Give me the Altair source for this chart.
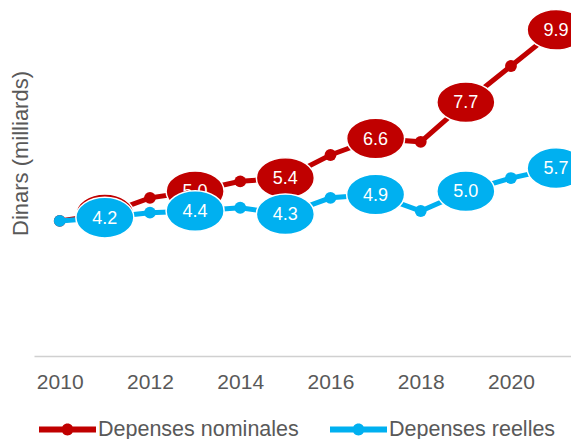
import altair as alt
import pandas as pd

years = list(range(2010, 2022))
nominal = [4.1, 4.3, 4.8, 5.0, 5.3, 5.4, 6.1, 6.6, 6.5, 7.7, 8.8, 9.9]
real = [4.1, 4.2, 4.35, 4.4, 4.5, 4.3, 4.8, 4.9, 4.4, 5.0, 5.4, 5.7]
series_names = ["Depenses nominales", "Depenses reelles"]
series_colors = ["#C00000", "#00B0F0"]
label_years = [2011, 2013, 2015, 2017, 2019, 2021]
tick_years = [2010, 2012, 2014, 2016, 2018, 2020]

rows = []
for name, vals in zip(series_names, [nominal, real]):
    for y, v in zip(years, vals):
        rows.append({"year": y, "value": v, "series": name,
                     "label": f"{v:.1f}", "show": y in label_years})
df = pd.DataFrame(rows)

FONT = "Liberation Sans"
GREY = "#595959"

xscale = alt.Scale(domain=[2009.43, 2021.33], nice=False, zero=False)
yscale = alt.Scale(domain=[0, 10.5], nice=False, zero=True)
ellipse = "M-1,0 A1,0.7 0 1,1 1,0 A1,0.7 0 1,1 -1,0 Z"
legend_sym = ("M-1,-0.105 H1 V0.105 H-1 Z "
              "M-0.21,0 A0.21,0.21 0 1,1 0.21,0 A0.21,0.21 0 1,1 -0.21,0 Z")


def layers(name, color, with_legend):
    d = df[df.series == name]
    base = alt.Chart(d).encode(
        x=alt.X("year:Q", scale=xscale,
                axis=alt.Axis(values=tick_years, format="d", title=None,
                              ticks=False, grid=False, domainColor="#D0D0D0",
                              domainWidth=1.5, labelFont=FONT, labelFontSize=21,
                              labelColor=GREY, labelPadding=15)),
        y=alt.Y("value:Q", scale=yscale,
                axis=alt.Axis(labels=False, ticks=False, domain=False, grid=False,
                              title="Dinars (milliards)", titleFont=FONT,
                              titleFontSize=22, titleFontWeight="normal",
                              titleColor=GREY, titleX=-2, titleY=143)),
    )
    line = base.mark_line(strokeWidth=5, color=color)
    if with_legend:
        fill_enc = alt.Fill("series:N",
                            scale=alt.Scale(domain=series_names, range=series_colors),
                            legend=alt.Legend(title=None, orient="none",
                                              direction="horizontal",
                                              legendX=5, legendY=391,
                                              symbolType=legend_sym,
                                              symbolSize=3249,
                                              symbolStrokeWidth=0,
                                              labelFont=FONT, labelFontSize=21.5,
                                              labelColor=GREY, labelOffset=2,
                                              columnPadding=31,
                                              labelLimit=300))
    else:
        fill_enc = alt.Fill("series:N",
                            scale=alt.Scale(domain=series_names, range=series_colors),
                            legend=None)
    pts = base.mark_point(filled=True, size=140, shape="circle", opacity=1).encode(fill=fill_enc)
    lab = base.transform_filter("datum.show")
    ell = lab.mark_point(filled=True, shape=ellipse, size=3364, fill=color,
                         stroke="white", strokeWidth=1.5, opacity=1)
    txt = lab.mark_text(font=FONT, fontSize=18, color="white", dy=1).encode(text="label:N")
    return [line, pts, ell, txt]


chart = alt.layer(
    *layers(series_names[0], series_colors[0], True),
    *layers(series_names[1], series_colors[1], False),
).resolve_scale(fill="shared").properties(
    width=537, height=346,
    autosize=alt.AutoSizeParams(type="none"),
    padding={"left": 26, "top": 2, "right": 0, "bottom": 83},
).configure_view(stroke=None)

chart.save("out.html", embed_options={"renderer": "svg", "actions": False})
